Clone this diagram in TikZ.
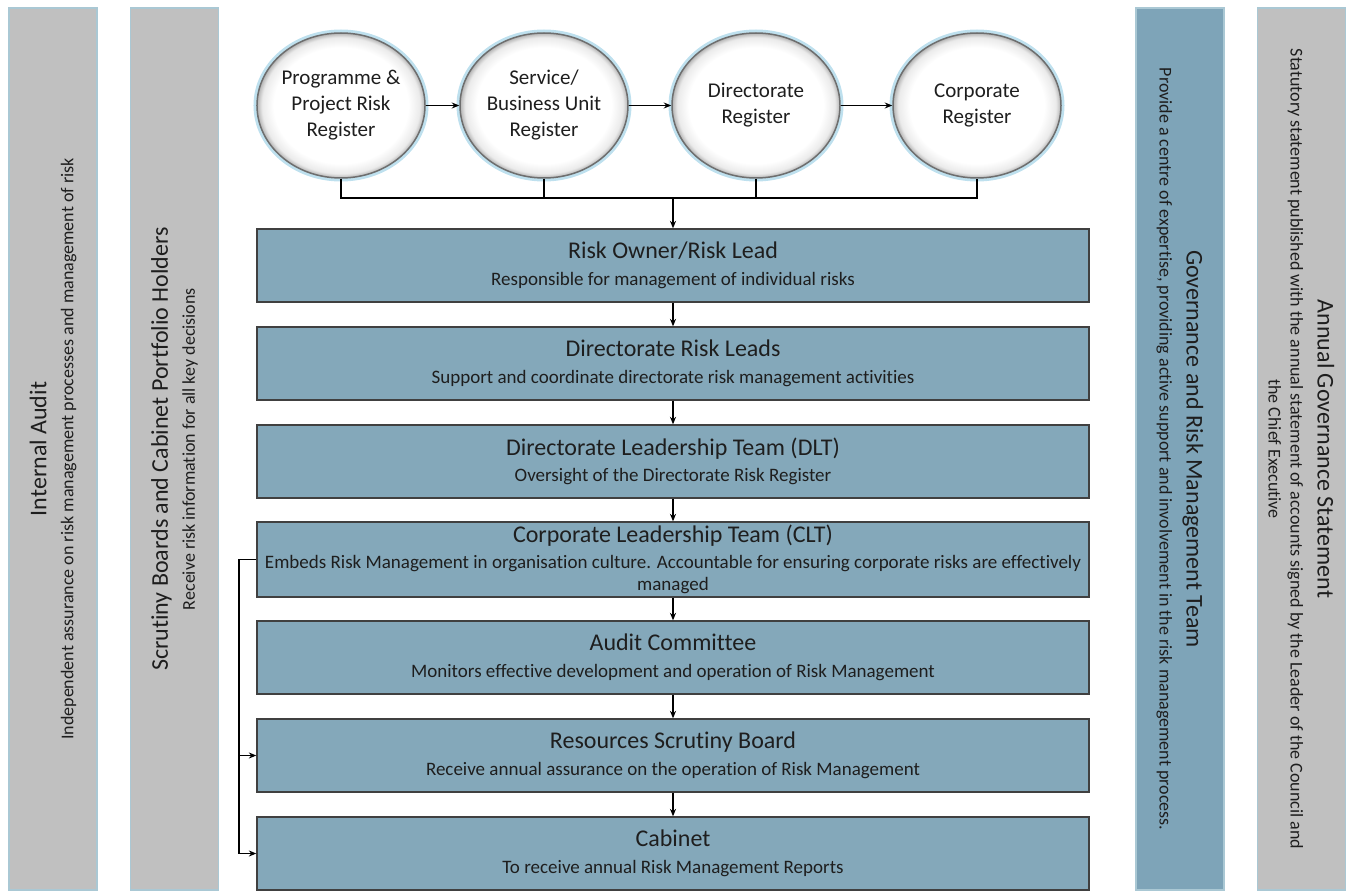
\documentclass[tikz,border=0pt]{standalone}
\usepackage{fontspec}
\setmainfont{Carlito}[Ligatures=NoCommon]
\usetikzlibrary{shapes.geometric,arrows.meta}

\definecolor{boxblue}{RGB}{132,168,186}
\definecolor{govblue}{RGB}{126,164,184}
\definecolor{panelgray}{RGB}{192,192,192}
\definecolor{panelrim}{RGB}{170,200,212}
\definecolor{glowblue}{RGB}{190,224,238}
\definecolor{rimgray}{RGB}{110,110,110}
\definecolor{inktext}{RGB}{30,30,30}

\pgfdeclareradialshading{regshade}{\pgfpoint{0bp}{0bp}}{color(0bp)=(white); color(20bp)=(white); color(23.5bp)=(black!8); color(25bp)=(black!30); color(50bp)=(black!30)}

\newcommand{\titlefont}{\fontsize{24}{28}\selectfont}

\tikzset{every picture/.style={line width=1.2pt}}
\tikzset{
  regcircle/.style={ellipse, minimum width=168, minimum height=145, inner sep=0pt,
    draw=rimgray, line width=1.5pt, shade, shading=regshade, align=center,
    text=inktext, font=\fontsize{21}{26}\selectfont,
    preaction={draw=glowblue, line width=7pt}},
  layerbox/.style={rectangle, draw=black!75, line width=1.3pt, fill=boxblue,
    minimum width=832, minimum height=73, inner sep=1pt, align=center,
    text=inktext, font=\fontsize{19}{22}\selectfont},
  sidepanel/.style={rectangle, draw=panelrim, line width=1.5pt,
    minimum width=882, minimum height=88, inner sep=2pt, align=center,
    text=inktext, font=\fontsize{18}{22}\selectfont},
  arr/.style={-{Stealth[length=7.5pt,width=6pt]}, line width=1.2pt},
}

\begin{document}
\begin{tikzpicture}[x=1pt,y=1pt,yscale=-1]
\useasboundingbox (0,0) rectangle (1352,893);

% side panels
\node[sidepanel, fill=panelgray, rotate=90] (audit) at (53,449)
  {{\titlefont Internal Audit}\\[5pt]Independent assurance on risk management processes and management of risk};
\node[sidepanel, fill=panelgray, rotate=90] (scrutiny) at (174.5,449)
  {{\titlefont Scrutiny Boards and Cabinet Portfolio Holders}\\[5pt]Receive risk information for all key decisions};
\node[sidepanel, fill=govblue, rotate=-90] (grmt) at (1180,449)
  {{\titlefont Governance and Risk Management Team}\\[5pt]Provide a centre of expertise, providing active support and involvement in the risk management process.};
\node[sidepanel, fill=panelgray, rotate=-90] (ags) at (1301.5,449)
  {{\titlefont Annual Governance Statement}\\[5pt]Statutory statement published with the annual statement of accounts signed by the Leader of the Council and\\the Chief Executive};

% registers
\node[regcircle] (prog) at (341,105.5) {Programme \&\\Project Risk\\Register};
\node[regcircle] (serv) at (544,105.5) {Service/\\Business Unit\\Register};
\node[regcircle] (dirreg) at (756,105.5) {Directorate\\Register};
\node[regcircle] (correg) at (977,105.5) {Corporate\\Register};

\draw[arr] (prog) -- (serv);
\draw[arr] (serv) -- (dirreg);
\draw[arr] (dirreg) -- (correg);

% layers
\node[layerbox] (owner) at (673,265.5) {{\titlefont Risk Owner/Risk Lead}\\[4.5pt]Responsible for management of individual risks};
\node[layerbox] (leads) at (673,363.5) {{\titlefont Directorate Risk Leads}\\[4.5pt]Support and coordinate directorate risk management activities};
\node[layerbox] (dlt) at (673,461.5) {{\titlefont Directorate Leadership Team (DLT)}\\[4.5pt]Oversight of the Directorate Risk Register};
\node[layerbox, minimum height=75] (clt) at (673,559.5) {{\titlefont Corporate Leadership Team (CLT)}\\[4pt]Embeds Risk Management in organisation culture. Accountable for ensuring corporate risks are effectively\\managed};
\node[layerbox] (auditc) at (673,657.5) {{\titlefont Audit Committee}\\[4.5pt]Monitors effective development and operation of Risk Management};
\node[layerbox] (rsb) at (673,755.5) {{\titlefont Resources Scrutiny Board}\\[4.5pt]Receive annual assurance on the operation of Risk Management};
\node[layerbox] (cab) at (673,853.5) {{\titlefont Cabinet}\\[4.5pt]To receive annual Risk Management Reports};

% bus under registers
\coordinate (bus) at (673,198);
\draw (prog.south) -- (prog.south |- bus) -- (correg.south |- bus) -- (correg.south);
\draw (serv.south) -- (serv.south |- bus);
\draw (dirreg.south) -- (dirreg.south |- bus);
\draw[arr] (bus) -- (owner.north);

\draw[arr] (owner) -- (leads);
\draw[arr] (leads) -- (dlt);
\draw[arr] (dlt) -- (clt);
\draw[arr] (clt) -- (auditc);
\draw[arr] (auditc) -- (rsb);
\draw[arr] (rsb) -- (cab);

% feedback from CLT
\coordinate (fb) at (239,559.5);
\draw (clt.west) -- (fb) -- (fb |- cab.west);
\draw[arr] (fb |- rsb.west) -- (rsb.west);
\draw[arr] (fb |- cab.west) -- (cab.west);

\end{tikzpicture}
\end{document}
